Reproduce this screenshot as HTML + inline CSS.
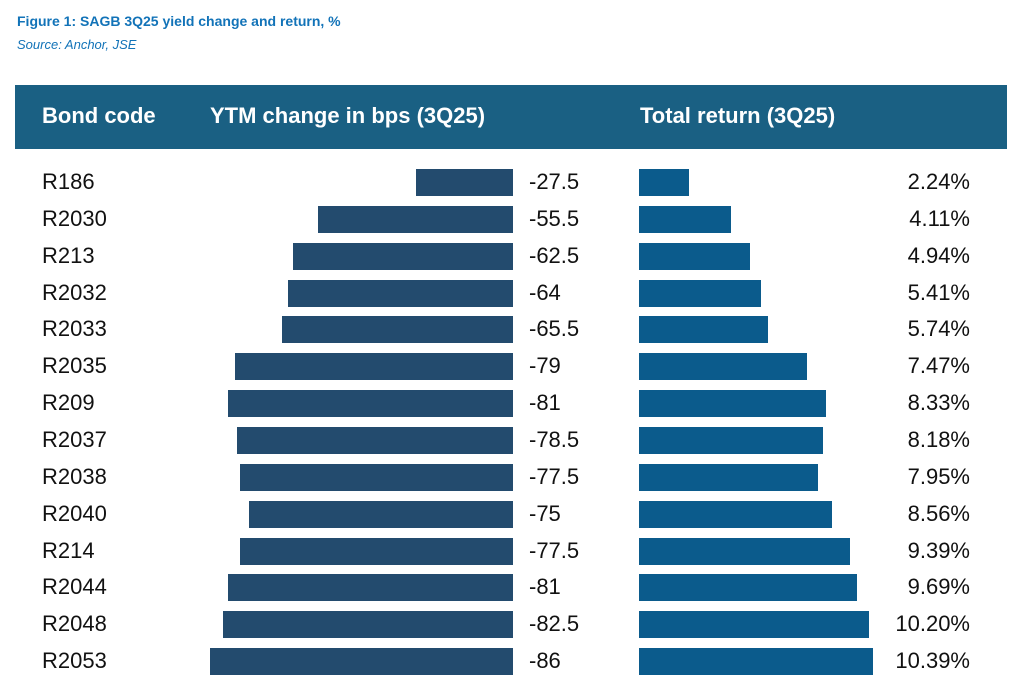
<!DOCTYPE html>
<html><head><style>
body{margin:0;width:1024px;height:674px;background:#fff;position:relative;overflow:hidden;font-family:"Liberation Sans",sans-serif}
.t{position:absolute;white-space:nowrap}
.hd{position:absolute;left:15px;top:85px;width:992px;height:64px;background:#1a6083}
.h{position:absolute;color:#fff;font-size:22px;font-weight:bold;top:103px;white-space:nowrap}
.lb,.v,.p{position:absolute;font-size:22px;color:#111;line-height:26px}
.bl{position:absolute;background:#234b6e;height:27px}
.br{position:absolute;background:#0b5b8c;height:27px;left:639px}
</style></head><body>
<div class="t" style="left:17px;top:13px;font-size:14px;font-weight:bold;color:#1273b8">Figure 1: SAGB 3Q25 yield change and return, %</div>
<div class="t" style="left:17px;top:37px;font-size:13px;font-style:italic;color:#1273b8">Source: Anchor, JSE</div>
<div class="hd"></div>
<div class="h" style="left:42px">Bond code</div>
<div class="h" style="left:210px">YTM change in bps (3Q25)</div>
<div class="h" style="left:640px">Total return (3Q25)</div>
<div id="c"></div>
<script>
var d=[["R186",-27.5,"2.24"],["R2030",-55.5,"4.11"],["R213",-62.5,"4.94"],["R2032",-64,"5.41"],["R2033",-65.5,"5.74"],["R2035",-79,"7.47"],["R209",-81,"8.33"],["R2037",-78.5,"8.18"],["R2038",-77.5,"7.95"],["R2040",-75,"8.56"],["R214",-77.5,"9.39"],["R2044",-81,"9.69"],["R2048",-82.5,"10.20"],["R2053",-86,"10.39"]];
var h="";
d.forEach(function(r,i){var c=182+i*36.85;var w=-r[1]*3.52;var rw=parseFloat(r[2])*22.5;
h+='<div class="lb" style="left:42px;top:'+(c-13)+'px">'+r[0]+'</div>';
h+='<div class="bl" style="left:'+(513-w)+'px;width:'+w+'px;top:'+(c-13)+'px"></div>';
h+='<div class="v" style="left:529px;top:'+(c-13)+'px">'+r[1]+'</div>';
h+='<div class="br" style="width:'+rw+'px;top:'+(c-13)+'px"></div>';
h+='<div class="p" style="right:54px;top:'+(c-13)+'px">'+r[2]+'%</div>';});
document.getElementById("c").innerHTML=h;
</script>
</body></html>
